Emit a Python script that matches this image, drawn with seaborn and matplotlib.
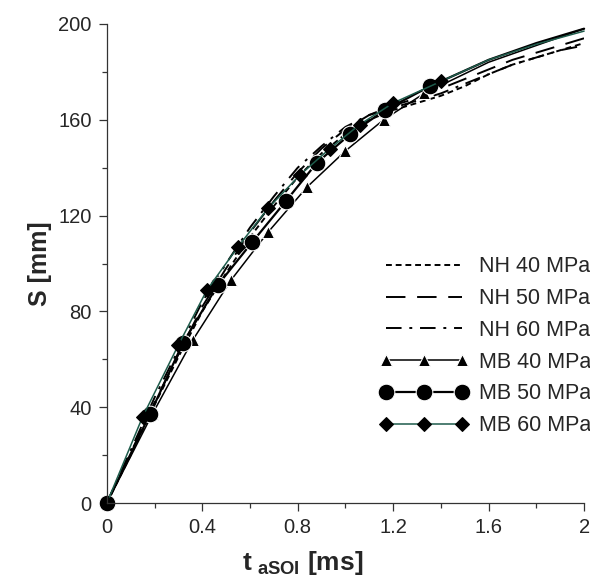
import numpy as np
import pandas as pd
import seaborn as sns
import matplotlib.pyplot as plt
from matplotlib.ticker import MultipleLocator

sns.set_style('ticks')
plt.rcParams['font.family'] = ['Liberation Sans', 'DejaVu Sans']
plt.rcParams['mathtext.fontset'] = 'custom'
plt.rcParams['mathtext.rm'] = 'Liberation Sans'
plt.rcParams['mathtext.bf'] = 'Liberation Sans:bold'

# NH curves (dashed, no markers)
t_nh = [0, 0.1, 0.2, 0.3, 0.4, 0.5, 0.6, 0.7, 0.8, 0.9, 1.0, 1.1, 1.2, 1.3, 1.4, 1.5, 1.6, 1.7, 1.8, 1.9, 2.0]
s_nh40 = [0, 20, 41, 61, 80, 96, 111, 124, 136, 146, 154, 160, 164, 167, 170, 174, 179, 183, 186, 189, 192]
s_nh50 = [0, 21, 42, 62, 82, 98, 113, 126, 138, 148, 156, 162, 166, 169, 173, 177, 181, 185, 188, 191, 194]
s_nh60 = [0, 22, 44, 64, 84, 100, 115, 128, 140, 149, 157, 162, 165, 168, 171, 175, 179, 183, 186, 189, 191]

# MB curves (markers on first points, line continues to 2 ms)
t_mb40 = [0, 0.19, 0.36, 0.52, 0.675, 0.84, 1.0, 1.16, 1.33, 1.6, 1.8, 2.0]
s_mb40 = [0, 37, 68, 93, 113, 132, 147, 160, 171, 184, 191, 198]
n_mb40 = 9
t_mb50 = [0, 0.18, 0.32, 0.465, 0.61, 0.75, 0.88, 1.02, 1.165, 1.355, 1.6, 1.8, 2.0]
s_mb50 = [0, 37, 67, 91, 109, 126, 142, 154, 164, 174, 185, 192, 198]
n_mb50 = 10
t_mb60 = [0, 0.15, 0.30, 0.42, 0.55, 0.675, 0.81, 0.935, 1.06, 1.2, 1.40, 1.6, 1.8, 2.0]
s_mb60 = [0, 36, 66, 89, 107, 123, 137, 148, 158, 167, 176, 185, 191.5, 197]
n_mb60 = 11

fig = plt.figure(figsize=(5.9, 5.83), dpi=100)
ax = fig.add_axes([0.181, 0.137, 0.809, 0.822])

sns.lineplot(x=t_nh, y=s_nh40, ax=ax, color='black', lw=1.4, linestyle=(0, (3, 2)), label='NH 40 MPa')
sns.lineplot(x=t_nh, y=s_nh50, ax=ax, color='black', lw=1.4, linestyle=(0, (10, 6)), label='NH 50 MPa')
sns.lineplot(x=t_nh, y=s_nh60, ax=ax, color='black', lw=1.4, linestyle=(0, (8, 4, 1.5, 4)), label='NH 60 MPa')
sns.lineplot(x=t_mb40, y=s_mb40, ax=ax, color='black', lw=1.1, marker='^', markersize=9,
             markevery=list(range(n_mb40)), label='MB 40 MPa', clip_on=False)
sns.lineplot(x=t_mb50, y=s_mb50, ax=ax, color='black', lw=1.6, marker='o', markersize=12,
             markevery=list(range(n_mb50)), label='MB 50 MPa', clip_on=False)
sns.lineplot(x=t_mb60, y=s_mb60, ax=ax, color='#1e5b4b', lw=1.1, marker='D', markersize=7,
             markerfacecolor='black', markeredgecolor='black',
             markevery=list(range(n_mb60)), label='MB 60 MPa', clip_on=False)

ax.set_xlim(0, 2)
ax.set_ylim(0, 200)
ax.xaxis.set_major_locator(MultipleLocator(0.4))
ax.xaxis.set_minor_locator(MultipleLocator(0.2))
ax.yaxis.set_major_locator(MultipleLocator(40))
ax.yaxis.set_minor_locator(MultipleLocator(20))
ax.set_xticks([0, 0.4, 0.8, 1.2, 1.6, 2.0])
ax.set_xticklabels(['0', '0.4', '0.8', '1.2', '1.6', '2'])
ax.tick_params(which='major', direction='out', length=6, width=0.9, labelsize=14.5, color='#333333', pad=5)
ax.tick_params(which='minor', direction='out', length=3.5, width=0.9, color='#333333')
for s in ['top', 'right']:
    ax.spines[s].set_visible(False)
for s in ['left', 'bottom']:
    ax.spines[s].set_linewidth(0.9)
    ax.spines[s].set_color('#333333')

ax.set_ylabel('S [mm]', fontsize=18, fontweight='bold', labelpad=4)
ax.set_xlabel(r'$\mathbf{t}_{\ \mathbf{aSOI}}$ [ms]', fontsize=19, fontweight='bold', labelpad=0)
ax.xaxis.set_label_coords(0.41, -0.095)

ax.legend(loc='upper right', bbox_to_anchor=(1.015, 0.515), frameon=False, fontsize=15.5,
          handlelength=4.1, numpoints=3, labelspacing=0.5, handletextpad=0.5,
          borderaxespad=0, borderpad=0)

fig.savefig('out.png', dpi=100)
